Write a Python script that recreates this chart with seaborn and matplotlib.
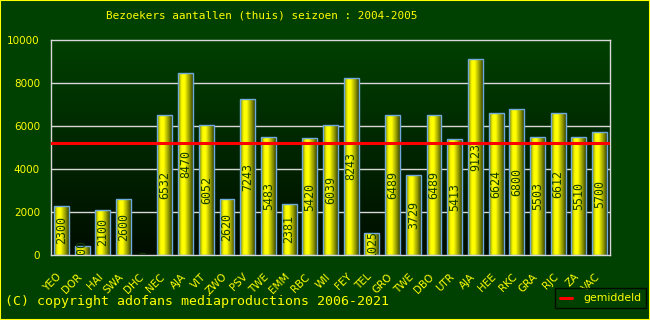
import numpy as np
import pandas as pd
import matplotlib
matplotlib.use("Agg")
import matplotlib.pyplot as plt
from matplotlib.colors import LinearSegmentedColormap
from matplotlib.patches import Rectangle
from matplotlib.lines import Line2D
from matplotlib.transforms import ScaledTranslation
import seaborn as sns

# ---- data ----
teams = ["YEO", "DOR", "HAI", "SWA", "DHC", "NEC", "AJA", "VIT", "ZWO", "PSV",
         "TWE", "EMM", "RBC", "WII", "FEY", "TEL", "GRO", "TWE", "DBO", "UTR",
         "AJA", "HEE", "RKC", "GRA", "RJC", "ZA", "VAC"]
bezoekers = [2300, 400, 2100, 2600, 0, 6532, 8470, 6052, 2620, 7243,
             5483, 2381, 5420, 6039, 8243, 1025, 6489, 3729, 6489, 5413,
             9123, 6624, 6800, 5503, 6612, 5510, 5700]
y_ticks = [0, 2000, 4000, 6000, 8000, 10000]
title = "Bezoekers aantallen (thuis) seizoen : 2004-2005"
copyright_text = "(C) copyright adofans mediaproductions 2006-2021"
legend_label = "gemiddeld"

nonzero = [v for v in bezoekers if v > 0]
gemiddeld = sum(nonzero) / len(nonzero)

df = pd.DataFrame({"pos": list(range(len(teams))), "team": teams, "bezoekers": bezoekers})

BG = "#004000"
YEL = "#ffff00"

sns.set_style("white")
plt.rcParams["font.family"] = ["DejaVu Sans"]

fig = plt.figure(figsize=(6.5, 3.2), dpi=100, facecolor=BG)
ax = fig.add_axes([51 / 650, 1 - 255 / 320, 559 / 650, 215 / 320])
ax.set_facecolor(BG)

# axes background vertical gradient
grad = np.linspace(0, 1, 256).reshape(-1, 1)
bg_cmap = LinearSegmentedColormap.from_list("bg", [(0.0, 0.05, 0.0), (0.0, 0.25, 0.0)])
ax.imshow(grad, aspect="auto", cmap=bg_cmap, origin="lower",
          extent=(0, 1, 0, 1), transform=ax.transAxes, zorder=0)

sns.barplot(data=df, x="pos", y="bezoekers", ax=ax, width=0.72,
            color=YEL, edgecolor="#6fa8dc", linewidth=1.0, zorder=3)

bar_cmap = LinearSegmentedColormap.from_list(
    "bar", [(0.0, (0.42, 0.48, 0.0)), (0.22, (0.95, 0.95, 0.0)), (0.3, (1.0, 1.0, 0.0)),
            (0.45, (1.0, 1.0, 0.0)), (0.75, (0.6, 0.62, 0.0)), (1.0, (0.22, 0.28, 0.0))])
hgrad = np.linspace(0, 1, 128).reshape(1, -1)
for p in ax.patches:
    x0, y0, w, h = p.get_x(), p.get_y(), p.get_width(), p.get_height()
    if h <= 0:
        p.set_visible(False)
        continue
    p.set_facecolor("none")
    im = ax.imshow(hgrad, aspect="auto", cmap=bar_cmap, extent=(x0, x0 + w, y0, y0 + h),
                   zorder=2.5, interpolation="bilinear")
    im.set_clip_path(p)

ax.set_xlim(-0.5, len(teams) - 0.5)
ax.set_ylim(0, 10000)

# value labels
for i, v in enumerate(bezoekers):
    ax.text(i, v / 2, str(v), rotation=90, ha="center", va="center",
            family="DejaVu Sans Mono", fontsize=8.4, color="#143c00", zorder=5,
            clip_on=True)

# grid
for t in y_ticks[1:-1]:
    ax.axhline(t, color="#d8d8d8", linewidth=1.0, zorder=1)

# average line
ax.axhline(gemiddeld, color="#ff0000", linewidth=2.2, zorder=6)

for s in ax.spines.values():
    s.set_color("#d8d8d8")
    s.set_linewidth(1.0)
    s.set_visible(True)

ax.set_yticks(y_ticks)
ax.set_yticklabels([str(t) for t in y_ticks], color=YEL, fontsize=7.5)
ax.set_xticks(range(len(teams)))
ax.set_xticklabels(teams, rotation=45, ha="right", rotation_mode="anchor",
                   color=YEL, fontsize=7.5)
ax.tick_params(axis="y", length=0, pad=8)
ax.tick_params(axis="x", length=0, pad=12)
shift = ScaledTranslation(-5 / 100, 0, fig.dpi_scale_trans)
for lab in ax.get_xticklabels():
    lab.set_transform(lab.get_transform() + shift)
ax.set_xlabel("")
ax.set_ylabel("")

fig.text(262 / 650, 1 - 16 / 320, title, ha="center", va="center", color=YEL,
         family="DejaVu Sans Mono", fontsize=7.9)
fig.text(5 / 650, 1 - 302 / 320, copyright_text, ha="left", va="center", color=YEL,
         family="DejaVu Sans Mono", fontsize=9.5)

handle = Line2D([0], [0], color="#ff0000", linewidth=2.2)
leg = fig.legend([handle], [legend_label], loc="upper left",
                 bbox_to_anchor=(550 / 650, 1 - 283 / 320), frameon=True,
                 fancybox=False, facecolor=BG, edgecolor="black",
                 fontsize=7.8, handlelength=1.1, borderpad=0.45, handletextpad=1.0)
for t in leg.get_texts():
    t.set_color(YEL)
leg.get_frame().set_linewidth(1.0)

fig.patches.append(Rectangle((0, 0), 1, 1, transform=fig.transFigure, fill=False,
                             edgecolor=YEL, linewidth=1.5, zorder=10))

fig.savefig("out.png", dpi=100, facecolor=BG)
